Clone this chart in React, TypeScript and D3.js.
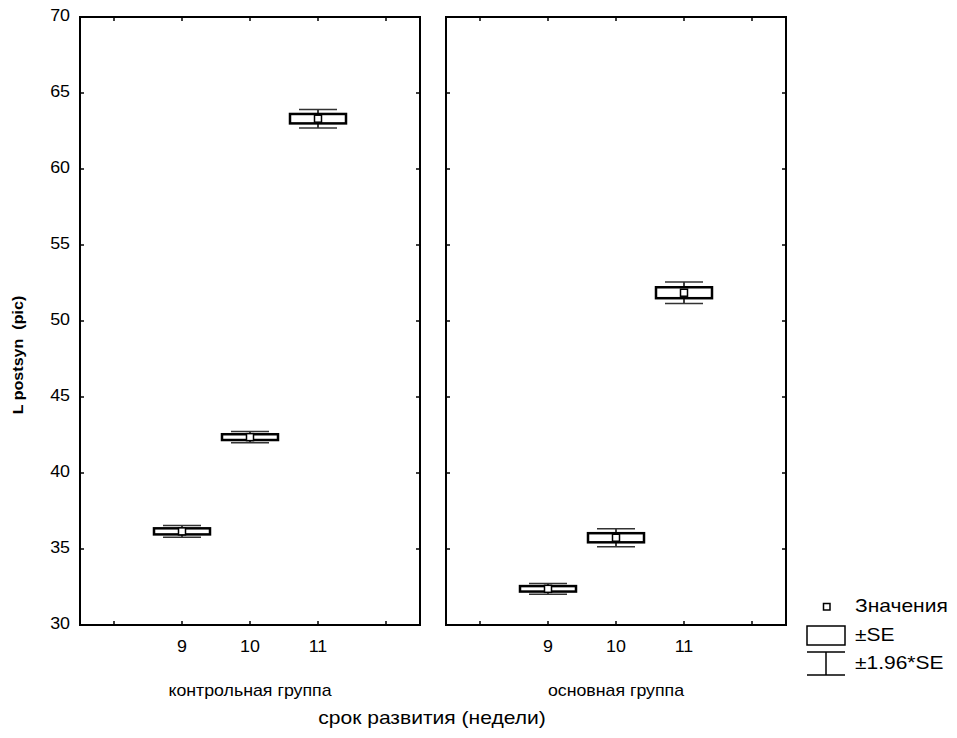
import React from 'react';
import * as d3 from 'd3';

// Data
const groups = ['контрольная группа', 'основная группа'];
const weeks = [9, 10, 11];
const means = [
  [36.16, 42.36, 63.31],
  [32.38, 35.74, 51.86],
];
const se = [
  [0.2, 0.19, 0.31],
  [0.18, 0.3, 0.36],
];
const yTicks = [30, 35, 40, 45, 50, 55, 60, 65, 70];
const xTicks = [8, 9, 10, 11, 12];
const xLabels = [9, 10, 11];
const legendItems = ['Значения', '±SE', '±1.96*SE'];

const W = 957;
const H = 738;
const top = 17;
const bottom = 625;
const panelX = [[80, 420], [446, 786]];
const font = 'Arial, "Liberation Sans", sans-serif';

const yScale = d3.scaleLinear().domain([30, 70]).range([bottom, top]);

// text slightly stretched horizontally, like the original export
function SText({ x, y, size, anchor = 'start', sx = 1.15, bold = false, rotate = false, children }: any) {
  const tr = rotate
    ? `translate(${x},${y}) rotate(-90) scale(${sx},1)`
    : `translate(${x},${y}) scale(${sx},1)`;
  return (
    <text transform={tr} textAnchor={anchor} dominantBaseline="middle" fontFamily={font}
      fontSize={size} fontWeight={bold ? 'bold' : 'normal'} style={{ whiteSpace: 'pre' }}>
      {children}
    </text>
  );
}

function Panel({ gi }: { gi: number }) {
  const [x0, x1] = panelX[gi];
  const x = d3.scaleLinear().domain([7.5, 12.5]).range([x0, x1]);
  const tl = 4;
  const boxW = 56;
  const capW = 38;
  return (
    <g>
      <rect x={x0} y={top} width={x1 - x0} height={bottom - top} fill="none" stroke="#000" strokeWidth={2} />
      {xTicks.map(t => (
        <g key={'x' + t}>
          <line x1={x(t)} x2={x(t)} y1={bottom} y2={bottom - tl} stroke="#000" strokeWidth={1.5} />
          <line x1={x(t)} x2={x(t)} y1={top} y2={top + tl} stroke="#000" strokeWidth={1.5} />
        </g>
      ))}
      {yTicks.map(t => (
        <g key={'y' + t}>
          <line x1={x0} x2={x0 + tl} y1={yScale(t)} y2={yScale(t)} stroke="#000" strokeWidth={1.5} />
          <line x1={x1} x2={x1 - tl} y1={yScale(t)} y2={yScale(t)} stroke="#000" strokeWidth={1.5} />
        </g>
      ))}
      {xLabels.map(t => (
        <SText key={'l' + t} x={x(t)} y={648} size={17} anchor="middle" sx={1.05}>{t}</SText>
      ))}
      <SText x={(x0 + x1) / 2} y={692} size={16} anchor="middle" sx={1.11}>{groups[gi]}</SText>
      {weeks.map((wk, i) => {
        const cx = x(wk);
        const m = means[gi][i];
        const s = se[gi][i];
        const yHi = yScale(m + 1.96 * s);
        const yLo = yScale(m - 1.96 * s);
        const bHi = yScale(m + s);
        const bLo = yScale(m - s);
        const cy = yScale(m);
        return (
          <g key={wk}>
            <line x1={cx} x2={cx} y1={yHi} y2={yLo} stroke="#000" strokeWidth={1.5} />
            <line x1={cx - capW / 2} x2={cx + capW / 2} y1={yHi} y2={yHi} stroke="#333" strokeWidth={1.5} />
            <line x1={cx - capW / 2} x2={cx + capW / 2} y1={yLo} y2={yLo} stroke="#333" strokeWidth={1.5} />
            <rect x={cx - boxW / 2} y={bHi} width={boxW} height={bLo - bHi} fill="#fff" stroke="#000" strokeWidth={2.5} />
            <rect x={cx - 3.5} y={cy - 3.5} width={7} height={7} fill="#fff" stroke="#000" strokeWidth={1.5} />
          </g>
        );
      })}
    </g>
  );
}

export default function App() {
  return (
    <svg width={W} height={H} style={{ display: 'block', position: 'absolute', left: 0, top: 0 }}>
      <rect width={W} height={H} fill="#fff" />
      {yTicks.map(t => (
        <SText key={t} x={70} y={yScale(t)} size={17} anchor="end" sx={1.05}>{t}</SText>
      ))}
      <SText x={19} y={355} size={14} anchor="middle" sx={1.15} bold rotate>{'L postsyn  (pic)'}</SText>
      {groups.map((g, gi) => <Panel key={g} gi={gi} />)}
      <SText x={432} y={719} size={18} anchor="middle" sx={1.17}>срок развития (недели)</SText>
      {/* legend */}
      <g>
        <rect x={823.5} y={603.5} width={6.5} height={6.5} fill="#fff" stroke="#000" strokeWidth={1.5} />
        <rect x={807} y={626} width={38} height={19} fill="#fff" stroke="#000" strokeWidth={1.5} />
        <line x1={807} x2={845} y1={652} y2={652} stroke="#000" strokeWidth={1.5} />
        <line x1={826} x2={826} y1={652} y2={675} stroke="#000" strokeWidth={1.5} />
        <line x1={807} x2={845} y1={675} y2={675} stroke="#000" strokeWidth={1.5} />
        {legendItems.map((t, i) => (
          <SText key={t} x={855} y={[607, 636, 664][i]} size={17.5} sx={1.2}>{t}</SText>
        ))}
      </g>
    </svg>
  );
}
